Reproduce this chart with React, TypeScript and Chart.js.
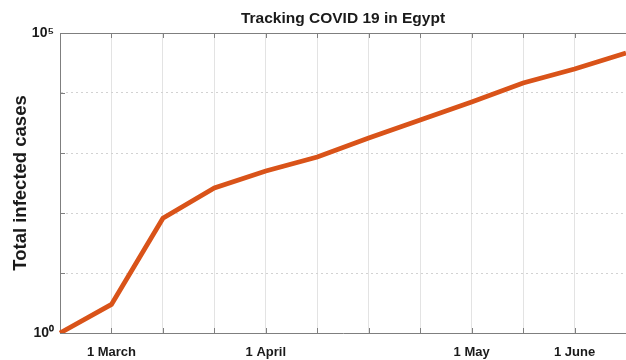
import React, { useEffect, useRef } from 'react';
import { Chart, registerables } from 'chart.js';

Chart.register(...registerables);

const categories = ['', '1 March', '', '', '1 April', '', '', '', '1 May', '', '1 June', ''];
const totalCases = [1, 3, 82, 261, 501, 858, 1778, 3548, 7079, 14678, 25119, 46416];
const yTickValues = [1, 10, 100, 1000, 10000, 100000];
const yTickLabels: Record<number, string> = { 1: '10\u2070', 100000: '10\u2075' };
const chartTitle = 'Tracking COVID 19 in Egypt';
const yAxisTitle = 'Total infected cases';

const FONT = "'Liberation Sans', Arial, Helvetica, sans-serif";
const AXIS_COLOR = '#7f7f7f';
const TEXT_COLOR = '#1a1a1a';

const boxPlugin = {
  id: 'matlabBox',
  beforeDatasetsDraw(chart: any) {
    const { ctx, chartArea, scales } = chart;
    const { left, right, top, bottom } = chartArea;
    ctx.save();
    ctx.strokeStyle = AXIS_COLOR;
    ctx.lineWidth = 1;
    ctx.beginPath();
    const ty = Math.round(top) + 0.5;
    ctx.moveTo(left, ty);
    ctx.lineTo(right, ty);
    const xs = scales.x;
    xs.ticks.forEach((_: any, i: number) => {
      const px = Math.round(xs.getPixelForTick(i)) + 0.5;
      ctx.moveTo(px, bottom);
      ctx.lineTo(px, bottom - 5);
      ctx.moveTo(px, top);
      ctx.lineTo(px, top + 5);
    });
    const ys = scales.y;
    ys.ticks.forEach((_: any, i: number) => {
      const py = Math.round(ys.getPixelForTick(i)) + 0.5;
      ctx.moveTo(left, py);
      ctx.lineTo(left + 5, py);
    });
    ctx.stroke();
    ctx.restore();
  },
};

export default function App() {
  const canvasRef = useRef<HTMLCanvasElement | null>(null);

  useEffect(() => {
    document.body.style.margin = '0';
    const canvas = canvasRef.current;
    if (!canvas) return;
    const chart = new Chart(canvas, {
      type: 'line',
      data: {
        labels: categories,
        datasets: [
          {
            label: 'Total infected cases',
            data: totalCases,
            borderColor: '#D95319',
            backgroundColor: '#D95319',
            borderWidth: 4.8,
            pointRadius: 0,
            tension: 0,
            fill: false,
          },
        ],
      },
      options: {
        responsive: false,
        animation: false,
        layout: { padding: { left: 0, right: 0, top: 0, bottom: 0 } },
        plugins: {
          legend: { display: false },
          tooltip: { enabled: false },
          title: {
            display: true,
            text: chartTitle,
            fullSize: false,
            color: TEXT_COLOR,
            font: { family: FONT, size: 15.5, weight: 'bold' },
            padding: { top: 9, bottom: 5.4 },
          },
        },
        scales: {
          x: {
            type: 'category',
            offset: false,
            grid: { color: '#e3e3e3', lineWidth: 1, drawTicks: false },
            border: { color: AXIS_COLOR, width: 1 },
            ticks: {
              autoSkip: false,
              maxRotation: 0,
              padding: 12,
              color: TEXT_COLOR,
              font: { family: FONT, size: 13, weight: 'bold' },
            },
            afterFit: (scale: any) => {
              scale.height = 27;
              scale.paddingRight = 0;
              scale.paddingLeft = 0;
            },
          },
          y: {
            type: 'logarithmic',
            min: 1,
            max: 100000,
            afterBuildTicks: (scale: any) => {
              scale.ticks = yTickValues.map((v) => ({ value: v }));
            },
            grid: { color: '#d2d2d2', lineWidth: 1, drawTicks: false },
            border: { color: AXIS_COLOR, width: 1, dash: [2, 3] },
            ticks: {
              padding: 6,
              color: TEXT_COLOR,
              font: { family: FONT, size: 14, weight: 'bold' },
              callback: (v: any) => yTickLabels[Number(v)] ?? '',
            },
            title: {
              display: true,
              text: yAxisTitle,
              color: TEXT_COLOR,
              font: { family: FONT, size: 18.5, weight: 'bold' },
              padding: { top: 10, bottom: 0 },
            },
            afterFit: (scale: any) => {
              scale.width = 60;
            },
          },
        },
      },
      plugins: [boxPlugin],
    });
    return () => chart.destroy();
  }, []);

  return (
    <div style={{ position: 'absolute', left: 0, top: 0, width: 626, height: 360, background: '#fff' }}>
      <canvas ref={canvasRef} width={626} height={360} style={{ display: 'block' }} />
    </div>
  );
}
